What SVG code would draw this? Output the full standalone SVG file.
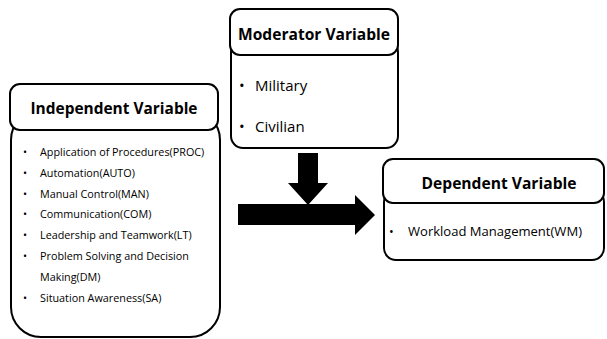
<svg xmlns="http://www.w3.org/2000/svg" width="607" height="339" viewBox="0 0 607 339">
<style>
.box{fill:#fff;stroke:#000;stroke-width:2}
.title{font-family:"Open Sans","Noto Sans",sans-serif;font-weight:bold;font-size:16.5px;fill:#000;text-anchor:middle}
.item{font-family:"Open Sans","Noto Sans",sans-serif;font-size:10.8px;fill:#000}
.mod{font-family:"Open Sans","Noto Sans",sans-serif;font-size:15px;fill:#000}
.dep{font-family:"Open Sans","Noto Sans",sans-serif;font-size:12.5px;fill:#000}
</style>
<rect width="607" height="339" fill="#fff"/>
<g id="connectors">
<polygon points="298,153 318,153 318,183 328,183 308,205 288,183 298,183" fill="#000"/>
<polygon points="238,204 355,204 355,195 375,215 355,235 355,225 238,225" fill="#000"/>
</g>
<g id="independent">
<rect class="box" x="11" y="110" width="209" height="227" rx="30"/>
<rect class="box" x="10" y="84" width="208" height="46" rx="10"/>
<text class="title" x="114" y="114" textLength="167" lengthAdjust="spacingAndGlyphs">Independent Variable</text>
<g class="item">
<text x="23" y="156">•</text><text x="40" y="156">Application of Procedures(PROC)</text>
<text x="23" y="177">•</text><text x="40" y="177">Automation(AUTO)</text>
<text x="23" y="198">•</text><text x="40" y="198">Manual Control(MAN)</text>
<text x="23" y="218">•</text><text x="40" y="218">Communication(COM)</text>
<text x="23" y="239">•</text><text x="40" y="239">Leadership and Teamwork(LT)</text>
<text x="23" y="260">•</text><text x="40" y="260">Problem Solving and Decision</text>
<text x="40" y="281">Making(DM)</text>
<text x="23" y="302">•</text><text x="40" y="302">Situation Awareness(SA)</text>
</g>
</g>
<g id="moderator">
<rect class="box" x="231" y="40" width="167" height="108" rx="12"/>
<rect class="box" x="230" y="9" width="168" height="46" rx="10"/>
<text class="title" x="314" y="40" textLength="152" lengthAdjust="spacingAndGlyphs">Moderator Variable</text>
<text class="mod" x="239" y="91">•</text><text class="mod" x="255" y="91">Military</text>
<text class="mod" x="239" y="132">•</text><text class="mod" x="255" y="132">Civilian</text>
</g>
<g id="dependent">
<rect class="box" x="384" y="190" width="220" height="70" rx="12"/>
<rect class="box" x="383" y="159" width="221" height="44" rx="10"/>
<text class="title" x="499" y="189" textLength="155" lengthAdjust="spacingAndGlyphs">Dependent Variable</text>
<text class="dep" x="389" y="236">•</text>
<text class="dep" x="408" y="236" textLength="174" lengthAdjust="spacingAndGlyphs">Workload Management(WM)</text>
</g>
</svg>
